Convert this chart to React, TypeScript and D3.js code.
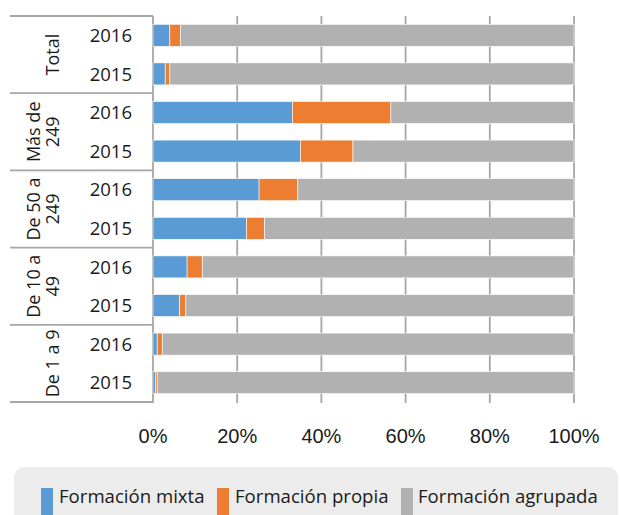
import * as d3 from "d3";

const groups = ["Total", "Más de 249", "De 50 a 249", "De 10 a 49", "De 1 a 9"];
const groupLines = [["Total"], ["Más de", "249"], ["De 50 a", "249"], ["De 10 a", "49"], ["De 1 a 9"]];
const years = ["2016", "2015"];

// one value per row, top to bottom (group x year)
const mixta = [4.0, 2.9, 33.1, 35.0, 25.2, 22.2, 8.1, 6.3, 1.0, 0.6];
const propia = [2.5, 1.1, 23.4, 12.5, 9.2, 4.3, 3.6, 1.5, 1.2, 0.4];
const agrupada = [93.5, 96.0, 43.5, 52.5, 65.6, 73.5, 88.3, 92.2, 97.8, 99.0];

const seriesNames = ["Formación mixta", "Formación propia", "Formación agrupada"];
const seriesKeys = ["mixta", "propia", "agrupada"];
const colors = ["#5b9bd5", "#ed7d31", "#b1b1b1"];
const xTicks = [0, 0.2, 0.4, 0.6, 0.8, 1];

const W = 620;
const H = 515;
const PLOT = { left: 153, right: 574, top: 16, bottom: 402 };
const LABEL_FONT = "'Open Sans', sans-serif";
const TICK_FONT = "'Liberation Sans', Arial, sans-serif";
const GRID = "#a6a6a6";

export default function App() {
  const rows = groups.flatMap((g, gi) =>
    years.map((y, yi) => {
      const i = gi * years.length + yi;
      return { id: `${g}-${y}`, group: g, year: y, mixta: mixta[i], propia: propia[i], agrupada: agrupada[i] };
    })
  );

  const stacked = d3.stack<any>().keys(seriesKeys).offset(d3.stackOffsetExpand)(rows);

  const x = d3.scaleLinear().domain([0, 1]).range([PLOT.left, PLOT.right]);
  const y = d3
    .scaleBand<string>()
    .domain(rows.map(r => r.id))
    .range([PLOT.top, PLOT.bottom])
    .paddingInner(0.43)
    .paddingOuter(0.215);

  const step = y.step();
  const groupSpan = step * years.length;
  const groupTop = (gi: number) => PLOT.top + gi * groupSpan;

  // legend positions
  const legendItems = [
    { sx: 41, tx: 59 },
    { sx: 217, tx: 235 },
    { sx: 401, tx: 418 },
  ];

  return (
    <div style={{ position: "absolute", left: 0, top: 0, width: W, height: H, overflow: "hidden", background: "#fff" }}>
      <svg width={W} height={H} style={{ display: "block" }}>
        {/* gridlines */}
        {xTicks.map(t => (
          <line key={t} x1={x(t)} x2={x(t)} y1={PLOT.top} y2={PLOT.bottom + 1} stroke={GRID} strokeWidth={1.8} />
        ))}

        {/* category frame lines */}
        {d3.range(groups.length + 1).map(gi => (
          <line
            key={gi}
            x1={10}
            x2={PLOT.left}
            y1={groupTop(gi)}
            y2={groupTop(gi)}
            stroke={GRID}
            strokeWidth={1.8}
          />
        ))}

        {/* bars */}
        {stacked.map((s, si) => (
          <g key={s.key} fill={colors[si]}>
            {s.map((d, i) => (
              <rect
                key={i}
                x={x(d[0])}
                y={y(rows[i].id)}
                width={Math.max(0, x(d[1]) - x(d[0]))}
                height={y.bandwidth()}
                stroke="#ffffff"
                strokeWidth={0.6}
              />
            ))}
          </g>
        ))}

        {/* year labels */}
        {rows.map(r => (
          <text
            key={r.id}
            x={132}
            y={(y(r.id) ?? 0) + y.bandwidth() / 2 + 6.7}
            textAnchor="end"
            fontFamily={LABEL_FONT}
            fontSize={18.5}
            fill="#1a1a1a"
          >
            {r.year}
          </text>
        ))}

        {/* group labels, rotated */}
        {groupLines.map((lines, gi) => {
          const cy = groupTop(gi) + groupSpan / 2;
          return lines.map((ln, li) => {
            const bx = 59 - (lines.length - 1 - li) * 19;
            return (
              <text
                key={`${gi}-${li}`}
                transform={`translate(${bx},${cy}) rotate(-90)`}
                textAnchor="middle"
                fontFamily={LABEL_FONT}
                fontSize={18}
                fill="#1a1a1a"
              >
                {ln}
              </text>
            );
          });
        })}

        {/* x tick labels */}
        {xTicks.map(t => (
          <text
            key={t}
            x={x(t)}
            y={443}
            textAnchor="middle"
            fontFamily={TICK_FONT}
            fontSize={20}
            fill="#1a1a1a"
          >
            {d3.format(".0%")(t)}
          </text>
        ))}

        {/* legend */}
        <rect x={14} y={467} width={604} height={70} rx={11} fill="#ececec" />
        {seriesNames.map((name, i) => (
          <g key={name}>
            <rect x={legendItems[i].sx} y={488} width={12} height={40} fill={colors[i]} />
            <text x={legendItems[i].tx} y={503} fontFamily={LABEL_FONT} fontSize={18.6} fill="#1a1a1a">
              {name}
            </text>
          </g>
        ))}
      </svg>
    </div>
  );
}
